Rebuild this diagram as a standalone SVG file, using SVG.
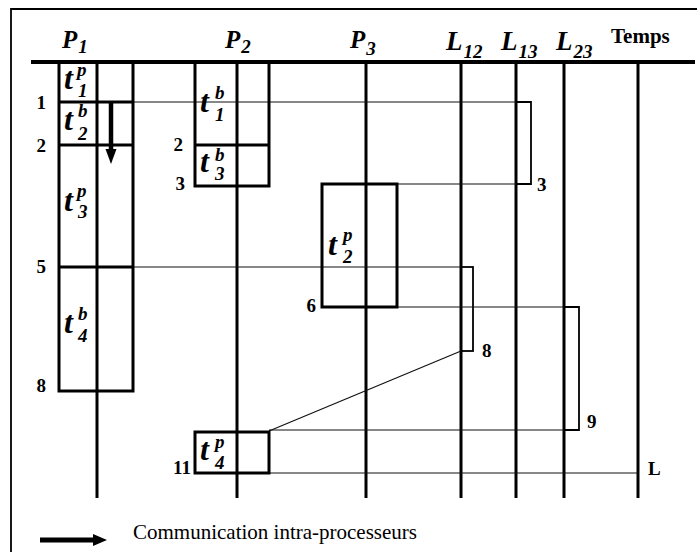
<svg xmlns="http://www.w3.org/2000/svg" width="697" height="552" viewBox="0 0 697 552">
<defs>
<style>
.thick{stroke:#000;stroke-width:3;fill:none}
.box{stroke:#000;stroke-width:3;fill:none}
.thin{stroke:#111;stroke-width:1.2;fill:none}
.brk{stroke:#000;stroke-width:1.8;fill:none}
.hdr{font-family:"Liberation Serif",serif;font-weight:bold;font-style:italic;fill:#000}
.num{font-family:"Liberation Serif",serif;font-weight:bold;font-size:19px;fill:#000}
.t{font-family:"Liberation Serif",serif;font-weight:bold;font-style:italic;font-size:32px;fill:#000}
.s{font-family:"Liberation Serif",serif;font-weight:bold;font-style:italic;font-size:19px;fill:#000}
</style>
</defs>
<rect width="697" height="552" fill="#fff"/>
<!-- frame -->
<path d="M11 552 V9 H697" stroke="#000" stroke-width="1.8" fill="none"/>
<line x1="31" y1="62" x2="695" y2="62" stroke="#000" stroke-width="4"/>
<!-- headers -->
<g id="headers">
<text class="hdr" x="62" y="48" font-size="25">P<tspan font-size="19" dx="1" dy="5">1</tspan></text>
<text class="hdr" x="225" y="48" font-size="25">P<tspan font-size="19" dx="1" dy="5">2</tspan></text>
<text class="hdr" x="350" y="48" font-size="25">P<tspan font-size="19" dx="1" dy="7">3</tspan></text>
<text class="hdr" x="446" y="50" font-size="27">L<tspan font-size="19" dx="1" dy="8">12</tspan></text>
<text class="hdr" x="501" y="50" font-size="27">L<tspan font-size="19" dx="1" dy="8">13</tspan></text>
<text class="hdr" x="556" y="50" font-size="27">L<tspan font-size="19" dx="1" dy="8">23</tspan></text>
<text x="611" y="43" font-family="Liberation Serif, serif" font-weight="bold" font-size="21">Temps</text>
</g>
<!-- time lines -->
<g id="lines">
<line class="thick" x1="97" y1="62" x2="97" y2="498"/>
<line class="thick" x1="237" y1="62" x2="237" y2="498"/>
<line class="thick" x1="366" y1="62" x2="366" y2="498"/>
<line class="thick" x1="461" y1="62" x2="461" y2="498"/>
<line class="thick" x1="516" y1="62" x2="516" y2="498"/>
<line class="thick" x1="564" y1="62" x2="564" y2="498"/>
<line class="thick" x1="638" y1="62" x2="638" y2="498"/>
</g>
<!-- connectors -->
<g id="connectors">
<polyline class="thin" points="133,102 531,102"/>
<polyline class="thin" points="397,184 531,184"/>
<polyline class="brk" points="516,102 531,102 531,184 516,184"/>
<line class="thin" x1="133" y1="267" x2="461" y2="267"/>
<rect class="brk" x="461" y="267" width="12" height="84"/>
<line class="thin" x1="461" y1="351" x2="269" y2="431"/>
<line class="thin" x1="397" y1="307" x2="579" y2="307"/>
<line class="thin" x1="269" y1="430" x2="579" y2="430"/>
<polyline class="brk" points="564,307 579,307 579,430 564,430"/>
<line class="thin" x1="269" y1="473" x2="638" y2="473"/>
</g>
<!-- P1 tasks -->
<g id="P1">
<rect class="box" x="59" y="62" width="74" height="329"/>
<line class="box" x1="59" y1="102" x2="133" y2="102"/>
<line class="box" x1="59" y1="145" x2="133" y2="145"/>
<line class="box" x1="59" y1="267" x2="133" y2="267"/>
</g>
<g id="t1p"><text class="t" x="64" y="89">t</text><text class="s" x="77" y="76">p</text><text class="s" x="78" y="97">1</text></g>
<g id="t2b"><text class="t" x="64" y="130">t</text><text class="s" x="78" y="117">b</text><text class="s" x="78" y="140">2</text></g>
<g id="t3p"><text class="t" x="64" y="211">t</text><text class="s" x="77" y="197">p</text><text class="s" x="78" y="218">3</text></g>
<g id="t4b"><text class="t" x="64" y="333">t</text><text class="s" x="78" y="320">b</text><text class="s" x="78" y="342">4</text></g>
<g id="intra-arrow">
<line x1="111" y1="102" x2="111" y2="150" stroke="#000" stroke-width="4.5"/>
<polygon points="105.5,149 116.5,149 111,164" fill="#000"/>
</g>
<!-- P2 tasks -->
<g id="P2">
<rect class="box" x="195" y="62" width="74" height="124"/>
<line class="box" x1="195" y1="145" x2="269" y2="145"/>
</g>
<g id="t1b"><text class="t" x="200" y="112">t</text><text class="s" x="215" y="99">b</text><text class="s" x="215" y="121">1</text></g>
<g id="t3b"><text class="t" x="200" y="172">t</text><text class="s" x="215" y="161">b</text><text class="s" x="215" y="180">3</text></g>
<g id="t4p"><rect class="box" x="195" y="432" width="74" height="41"/><text class="t" x="200" y="460">t</text><text class="s" x="215" y="448">p</text><text class="s" x="215" y="469">4</text></g>
<!-- P3 task -->
<g id="t2p"><rect class="box" x="322" y="184" width="75" height="123"/><text class="t" x="328" y="255">t</text><text class="s" x="343" y="241">p</text><text class="s" x="343" y="263">2</text></g>
<!-- time labels -->
<g id="labels">
<text class="num" x="46" y="109" text-anchor="end">1</text>
<text class="num" x="46" y="152" text-anchor="end">2</text>
<text class="num" x="46" y="273" text-anchor="end">5</text>
<text class="num" x="46" y="392" text-anchor="end">8</text>
<text class="num" x="183" y="151" text-anchor="end">2</text>
<text class="num" x="185" y="190" text-anchor="end">3</text>
<text class="num" x="537" y="191">3</text>
<text class="num" x="316" y="312" text-anchor="end">6</text>
<text class="num" x="482" y="357">8</text>
<text class="num" x="587" y="428">9</text>
<text class="num" x="191" y="474" text-anchor="end">11</text>
<text class="num" x="648" y="475">L</text>
</g>
<!-- legend -->
<g id="legend">
<line x1="40" y1="540" x2="95" y2="540" stroke="#000" stroke-width="5"/>
<polygon points="93,534 107,540 93,546" fill="#000"/>
<text x="133" y="539" font-family="Liberation Serif, serif" font-size="21">Communication intra-processeurs</text>
</g>
</svg>
